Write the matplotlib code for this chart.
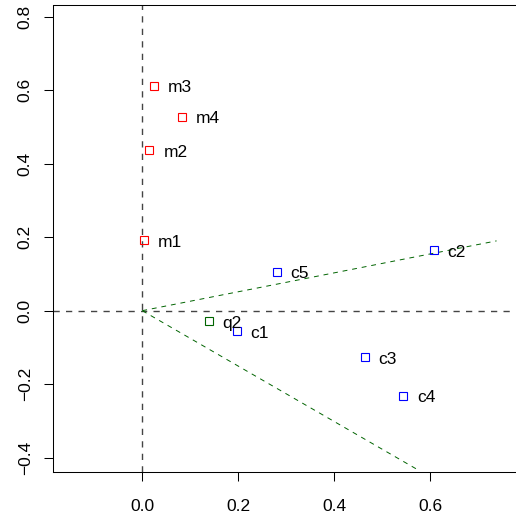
import matplotlib
matplotlib.use("Agg")
import matplotlib.pyplot as plt

plt.rcParams['font.family'] = ['Liberation Sans', 'DejaVu Sans']
plt.rcParams['lines.scale_dashes'] = False

# coordinates of the objects in the projected space
m_names = ['m1', 'm2', 'm3', 'm4']
m_x = [0.004, 0.015, 0.024, 0.082]
m_y = [0.192, 0.436, 0.612, 0.528]

c_names = ['c1', 'c2', 'c3', 'c4', 'c5']
c_x = [0.197, 0.607, 0.463, 0.543, 0.280]
c_y = [-0.056, 0.165, -0.127, -0.231, 0.106]

q_names = ['q2']
q_x = [0.138]
q_y = [-0.028]

# cone boundaries starting at the origin
cone_x = [0.738, 0.570]
cone_y = [0.190, -0.430]

x_ticks = [0.0, 0.2, 0.4, 0.6]
y_ticks = [-0.4, -0.2, 0.0, 0.2, 0.4, 0.6, 0.8]


def fmt(v):
    return ('%.1f' % v).replace('-', '\u2212')


fig = plt.figure(figsize=(5.16, 5.16), dpi=100)
ax = fig.add_axes([53 / 516, 44 / 516, 487 / 516, 466.5 / 516])
ax.set_xlim(-0.186, 0.8285)
ax.set_ylim(-0.439, 0.8305)

ax.axhline(0, color='#444444', lw=1.0, dashes=(4.5, 4.5), zorder=1)
ax.axvline(0, color='#444444', lw=1.0, dashes=(4.5, 4.5), zorder=1)

for ex, ey in zip(cone_x, cone_y):
    ax.plot([0, ex], [0, ey], color='#006400', lw=0.7, dashes=(3.5, 3.5), zorder=2)


def draw_group(xs, ys, names, col):
    ax.plot(xs, ys, ls='none', marker='s', ms=5.5, mfc='none', mec=col, mew=0.8, zorder=3)
    for x, y, n in zip(xs, ys, names):
        ax.annotate(n, (x, y), xytext=(10, -1.5), textcoords='offset points',
                    ha='left', va='center', fontsize=12.5, color='black')


draw_group(m_x, m_y, m_names, '#ff0000')
draw_group(c_x, c_y, c_names, '#0000ff')
draw_group(q_x, q_y, q_names, '#006400')

ax.set_xticks(x_ticks)
ax.set_xticklabels([fmt(v) for v in x_ticks])
ax.set_yticks(y_ticks)
ax.set_yticklabels([fmt(v) for v in y_ticks], rotation=90, va='center')
ax.tick_params(direction='out', length=6.5, width=0.75, labelsize=12.5)
ax.tick_params(axis='x', pad=13)
ax.tick_params(axis='y', pad=8)
for s in ax.spines.values():
    s.set_linewidth(0.75)

fig.savefig('out.png', dpi=100)
